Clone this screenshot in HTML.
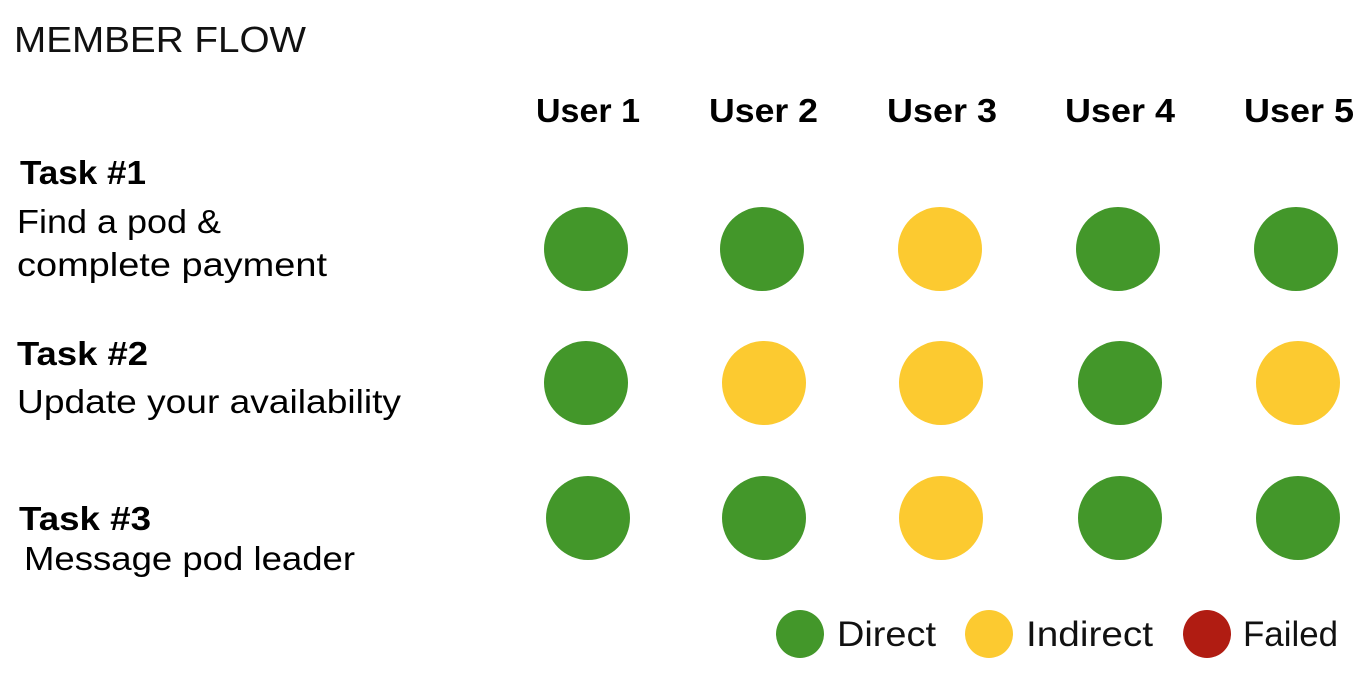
<!DOCTYPE html>
<html><head><meta charset="utf-8"><style>
html,body{margin:0;padding:0;background:#fff;}
svg{display:block;}
</style></head><body>
<svg width="1360" height="680" viewBox="0 0 1360 680" xmlns="http://www.w3.org/2000/svg" font-family="Liberation Sans, sans-serif">
<rect width="1360" height="680" fill="#fff"/>
<text x="14" y="52" font-size="36" fill="#111" textLength="292" lengthAdjust="spacingAndGlyphs">MEMBER FLOW</text>
<g font-size="33" font-weight="bold" fill="#000">
<text x="536" y="122" textLength="104" lengthAdjust="spacingAndGlyphs">User 1</text>
<text x="709" y="122" textLength="109" lengthAdjust="spacingAndGlyphs">User 2</text>
<text x="887" y="122" textLength="110" lengthAdjust="spacingAndGlyphs">User 3</text>
<text x="1065" y="122" textLength="110" lengthAdjust="spacingAndGlyphs">User 4</text>
<text x="1244" y="122" textLength="110" lengthAdjust="spacingAndGlyphs">User 5</text>
</g>
<g font-size="33" fill="#000">
<text x="20" y="184" font-weight="bold" textLength="126" lengthAdjust="spacingAndGlyphs">Task #1</text>
<text x="17" y="233" textLength="204" lengthAdjust="spacingAndGlyphs">Find a pod &amp;</text>
<text x="17" y="276" textLength="310" lengthAdjust="spacingAndGlyphs">complete payment</text>
<text x="17" y="365" font-weight="bold" textLength="131" lengthAdjust="spacingAndGlyphs">Task #2</text>
<text x="17" y="413" textLength="384" lengthAdjust="spacingAndGlyphs">Update your availability</text>
<text x="19" y="530" font-weight="bold" textLength="132" lengthAdjust="spacingAndGlyphs">Task #3</text>
<text x="24" y="570" textLength="331" lengthAdjust="spacingAndGlyphs">Message pod leader</text>
</g>
<g>
<circle cx="586" cy="249" r="42" fill="#43972A"/>
<circle cx="762" cy="249" r="42" fill="#43972A"/>
<circle cx="940" cy="249" r="42" fill="#FCCA30"/>
<circle cx="1118" cy="249" r="42" fill="#43972A"/>
<circle cx="1296" cy="249" r="42" fill="#43972A"/>
<circle cx="586" cy="383" r="42" fill="#43972A"/>
<circle cx="764" cy="383" r="42" fill="#FCCA30"/>
<circle cx="941" cy="383" r="42" fill="#FCCA30"/>
<circle cx="1120" cy="383" r="42" fill="#43972A"/>
<circle cx="1298" cy="383" r="42" fill="#FCCA30"/>
<circle cx="588" cy="518" r="42" fill="#43972A"/>
<circle cx="764" cy="518" r="42" fill="#43972A"/>
<circle cx="941" cy="518" r="42" fill="#FCCA30"/>
<circle cx="1120" cy="518" r="42" fill="#43972A"/>
<circle cx="1298" cy="518" r="42" fill="#43972A"/>
</g>
<circle cx="800" cy="634" r="24" fill="#43972A"/>
<circle cx="989" cy="634" r="24" fill="#FCCA30"/>
<circle cx="1207" cy="634" r="24" fill="#B01C12"/>
<g font-size="35" fill="#111">
<text x="837" y="646" textLength="99" lengthAdjust="spacingAndGlyphs">Direct</text>
<text x="1026" y="646" textLength="127" lengthAdjust="spacingAndGlyphs">Indirect</text>
<text x="1243" y="646" textLength="95" lengthAdjust="spacingAndGlyphs">Failed</text>
</g>
</svg>
</body></html>
